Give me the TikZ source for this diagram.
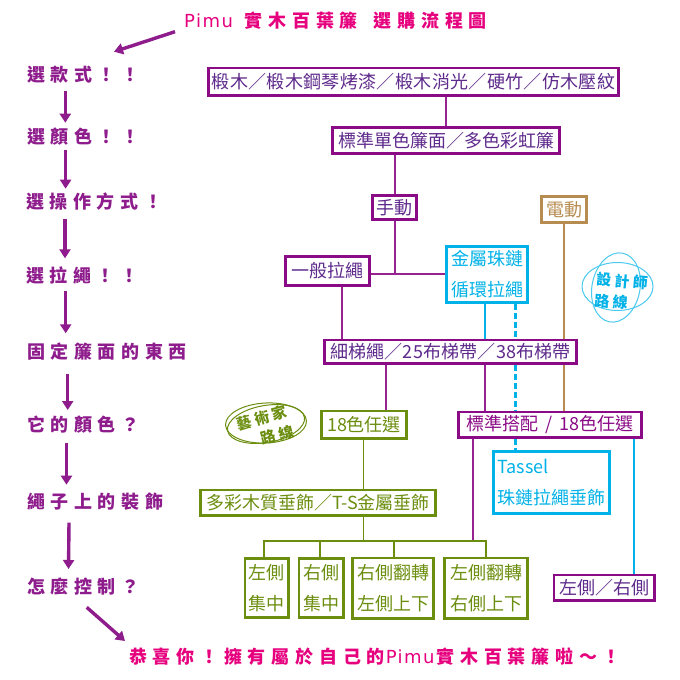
\documentclass[tikz,border=0pt]{standalone}
\usepackage{fontspec}
\usetikzlibrary{arrows.meta}
\setmainfont{Noto Sans CJK TC}
\newfontfamily\hand[LetterSpace=31]{Noto Sans CJK TC}
\newfontfamily\titlefont[LetterSpace=32]{Noto Sans CJK TC}
\newfontfamily\widebox[LetterSpace=2]{Noto Sans CJK TC}
\newfontfamily\midbox[LetterSpace=1]{Noto Sans CJK TC}
\newfontfamily\stampfont[LetterSpace=22]{Noto Sans CJK TC}
\newfontfamily\pimufont[LetterSpace=8]{DejaVu Sans}
\definecolor{pplbox}{HTML}{8B0A86}
\definecolor{ppltxt}{HTML}{5E2A8C}
\definecolor{pplhand}{HTML}{8E1C8C}
\definecolor{pink}{HTML}{E6007E}
\definecolor{olv}{HTML}{6C8E0F}
\definecolor{cyn}{HTML}{00B2E8}
\definecolor{tan1}{HTML}{B78C50}
\tikzset{
  x=1pt,y=-1pt,
  plainbox/.style={draw,line width=2.8pt,fill=white,inner sep=0pt,align=center,font=\fontsize{18}{31}\selectfont},
  purplebox/.style={plainbox,draw=pplbox,text=ppltxt},
  greenbox/.style={plainbox,draw=olv,text=olv},
  bluebox/.style={plainbox,draw=cyn,text=cyn},
  tanbox/.style={plainbox,draw=tan1,text=tan1},
  steplabel/.style={anchor=west,inner sep=0pt,text=pplhand,font=\hand\bfseries\fontsize{18}{20}\selectfont},
  titlelabel/.style={anchor=west,inner sep=0pt,text=pink,font=\titlefont\bfseries\fontsize{18}{20}\selectfont},
  flowarrow/.style={draw=pplhand,line width=3.4pt,-{Stealth[length=9pt,width=11pt,inset=0pt]}},
  plink/.style={draw=pplbox!90!white,line width=2pt},
  glink/.style={draw=olv,line width=1.8pt},
  blink/.style={draw=cyn,line width=2.5pt},
  dlink/.style={blink,dash pattern=on 6pt off 3pt},
  tlink/.style={draw=tan1,line width=2.2pt},
  stamptext/.style={inner sep=0pt,font=\stampfont\bfseries\fontsize{15}{16}\selectfont},
}
\newcommand\boxat[7]{% name x1 y1 x2 y2 style text
  \pgfmathsetmacro\bw{#4-#2-2.8}\pgfmathsetmacro\bh{#5-#3-2.8}
  \pgfmathsetmacro\bx{(#2+#4)/2}\pgfmathsetmacro\by{(#3+#5)/2}
  \node[#6,minimum width=\bw pt,minimum height=\bh pt] (#1) at (\bx,\by) {#7};}
\newcommand\pimu{{\pimufont\mdseries\fontsize{18}{20}\selectfont Pimu}}
\begin{document}
\begin{tikzpicture}
\useasboundingbox[fill=white] (0,0) rectangle (680,680);
% column coordinates
\coordinate (cA) at (446,0);
\coordinate (cB) at (394.7,0);
\coordinate (cC) at (341.7,0);
\coordinate (cD) at (485,0);
\coordinate (cE) at (515.7,0);
\coordinate (cF) at (563.7,0);
\coordinate (cG) at (385.7,0);
\coordinate (cH) at (363.5,0);
\coordinate (cI) at (473,0);
\coordinate (cJ) at (634,0);
\coordinate (rowA) at (0,274);
\coordinate (rowB) at (0,540.7);
\coordinate (dropA) at (264.3,0);
\coordinate (dropB) at (320,0);
\coordinate (dropC) at (394,0);
\coordinate (dropD) at (486,0);
% boxes
\boxat{wood}{207}{66.5}{620}{96.5}{purplebox}{\widebox 椴木／椴木鋼琴烤漆／椴木消光／硬竹／仿木壓紋}
\boxat{face}{331}{126}{561}{155}{purplebox}{標準單色簾面／多色彩虹簾}
\boxat{manual}{371}{194}{418}{221}{purplebox}{手動}
\boxat{electric}{540}{195}{588}{224}{tanbox}{電動}
\boxat{cord}{284}{255}{371}{287}{purplebox}{一般拉繩}
\boxat{chain}{445}{245}{529}{303.5}{bluebox}{金屬珠鏈\\循環拉繩}
\boxat{ladder}{323}{338.5}{578}{365}{purplebox}{\midbox 細梯繩／25布梯帶／38布梯帶}
\boxat{ggcolor}{320}{409.5}{408}{440}{greenbox}{18色任選}
\boxat{stdcolor}{457}{410.5}{643}{439}{plainbox,draw=pplbox,text=pplbox}{標準搭配\hspace{3pt} / \hspace{3pt}18色任選}
\boxat{tassel}{492}{454.5}{611}{511}{bluebox}{\begin{tabular}{@{}l@{}}Tassel\\珠鏈拉繩垂飾\end{tabular}}
\boxat{pendant}{199}{488.5}{437}{517}{greenbox}{多彩木質垂飾／T-S金屬垂飾}
\boxat{leftc}{243.5}{557}{290}{619}{greenbox}{左側\\集中}
\boxat{rightc}{297.5}{557}{344.5}{619}{greenbox}{右側\\集中}
\boxat{rightf}{351}{556.5}{435}{619.5}{greenbox}{右側翻轉\\左側上下}
\boxat{leftf}{443}{556.5}{529}{619.5}{greenbox}{左側翻轉\\右側上下}
\boxat{sides}{552.5}{573.5}{656}{602}{purplebox}{左側／右側}
% connectors
\draw[plink] (wood.south -| cA) -- (face.north -| cA);
\draw[plink] (face.south -| cB) -- (manual.north -| cB);
\draw[plink] (manual.south -| cB) -- (rowA -| cB);
\draw[plink] (cord.east |- rowA) -- (chain.west |- rowA);
\draw[plink] (cord.south -| cC) -- (ladder.north -| cC);
\draw[blink] (chain.south -| cD) -- (ladder.north -| cD);
\draw[dlink] (chain.south -| cE) -- (ladder.north -| cE);
\draw[dlink] (ladder.south -| cE) -- (stdcolor.north -| cE);
\draw[dlink] (stdcolor.south -| cE) -- (tassel.north -| cE);
\draw[tlink] (electric.south -| cF) -- (ladder.north -| cF);
\draw[tlink] (ladder.south -| cF) -- (stdcolor.north -| cF);
\draw[plink] (ladder.south -| cG) -- (ggcolor.north -| cG);
\draw[plink] (ladder.south -| cD) -- (stdcolor.north -| cD);
\draw[glink] (ggcolor.south -| cH) -- (pendant.north -| cH);
\draw[glink] (pendant.south -| cH) -- (rowB -| cH);
\draw[plink] (stdcolor.south -| cI) -- (rowB -| cI);
\draw[glink] (leftc.north -| dropA) -- (rowB -| dropA) -- (rowB -| dropD) -- (leftf.north -| dropD);
\draw[glink] (rightc.north -| dropB) -- (rowB -| dropB);
\draw[glink] (rightf.north -| dropC) -- (rowB -| dropC);
\draw[blink] (stdcolor.south -| cJ) -- (sides.north -| cJ);
% step labels
\node[titlelabel] (title) at (184,21) {\pimu\hspace{12pt}實木百葉簾\hspace{16pt}選購流程圖};
\node[steplabel] (s1) at (27,75) {選款式！！};
\node[steplabel] (s2) at (27,136.7) {選顏色！！};
\node[steplabel] (s3) at (26,202) {選操作方式！};
\node[steplabel] (s4) at (26,275.7) {選拉繩！！};
\node[steplabel] (s5) at (27,352) {固定簾面的東西};
\node[steplabel] (s6) at (27,425) {它的顏色？};
\node[steplabel] (s7) at (27,502) {繩子上的裝飾};
\node[steplabel] (s8) at (27,587) {怎麼控制？};
\node[titlelabel] (final) at (129,657) {恭喜你！擁有屬於自己的\hspace{1pt}\pimu\hspace{2pt}實木百葉簾啦～！};
% step arrows
\coordinate (t0) at (175,31.7); \coordinate (t1) at (114,51.7);
\coordinate (a1) at (65.3,90.7); \coordinate (b1) at (65.3,122.7);
\coordinate (a2) at (65.6,149.7); \coordinate (b2) at (65.6,188.7);
\coordinate (a3) at (65,218.7); \coordinate (b3) at (65,258.3);
\coordinate (a4) at (65.7,291); \coordinate (b4) at (65.7,333.3);
\coordinate (a5) at (67.7,373.7); \coordinate (b5) at (67.7,410);
\coordinate (a6) at (66.5,443.3); \coordinate (b6) at (66.5,484.7);
\coordinate (a7) at (69,522.7); \coordinate (b7) at (68.5,569);
\coordinate (a8) at (86.7,607.3); \coordinate (b8) at (125,641);
\draw[flowarrow] (t0) -- (t1);
\draw[flowarrow] (a1) -- (b1);
\draw[flowarrow] (a2) -- (b2);
\draw[flowarrow] (a3) -- (b3);
\draw[flowarrow] (a4) -- (b4);
\draw[flowarrow] (a5) -- (b5);
\draw[flowarrow] (a6) -- (b6);
\draw[flowarrow] (a7) -- (b7);
\draw[flowarrow] (a8) -- (b8);
% artist stamp
\draw[olv,line width=1pt,rotate around={3:(266,423)}] (266,423) ellipse [x radius=40.5,y radius=20];
\draw[olv,line width=1pt,rotate around={10:(266,424)}] (266,424) ellipse [x radius=39,y radius=18.5];
\node[stamptext,text=olv,rotate=15] (art1) at (262,418) {藝術家};
\node[stamptext,text=olv,rotate=15] (art2) at (277,435) {路線};
% designer mark
\draw[cyn!70!white,line width=1pt] (617.5,286.5) ellipse [x radius=35.5,y radius=24];
\draw[cyn!70!white,line width=1pt,rotate around={-11:(616,287.5)}] (616,287.5) ellipse [x radius=24,y radius=35];
\node[stamptext,text=cyn,rotate=-5] (des1) at (622,281) {設計師};
\node[stamptext,text=cyn,rotate=-3] (des2) at (611,301.5) {路線};
\end{tikzpicture}
\end{document}
